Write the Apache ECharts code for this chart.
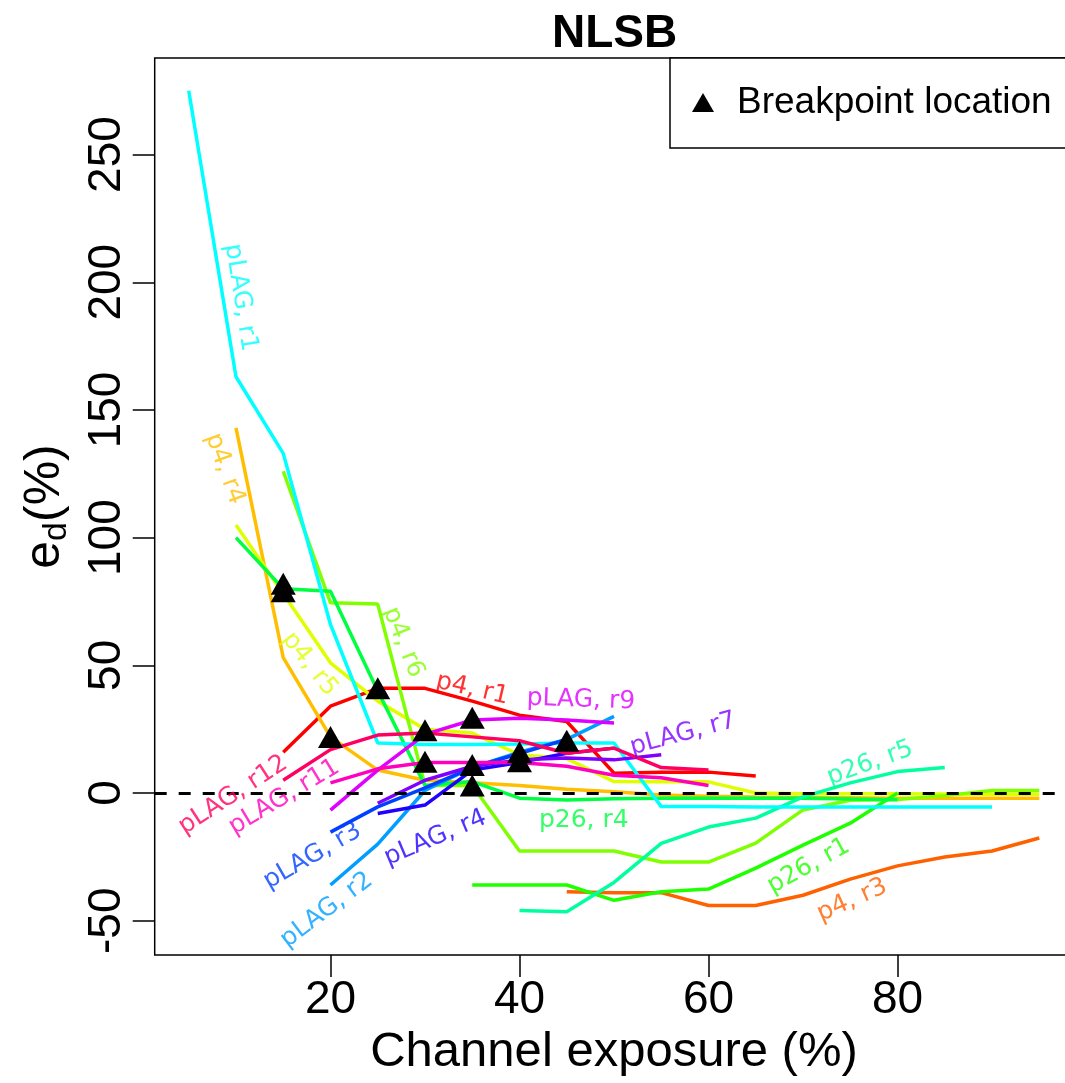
<!DOCTYPE html>
<html>
<head>
<meta charset="utf-8">
<script src="https://cdn.jsdelivr.net/npm/echarts@6/dist/echarts.min.js"></script>
<style>
	html, body { margin: 0; padding: 0; background: #fff; }
	#chart { width: 1065px; height: 1083px; }
</style>
</head>
<body>
<div id="chart"></div>
<script>
// data: channel exposure (%) vs e_d (%)
var x_p4_r1 = [15, 20, 25, 30, 35, 40, 45, 50, 55, 60, 65];
var y_p4_r1 = [16, 34, 41, 41, 36, 30.5, 28, 7.8, 8.2, 8.2, 6.7];

var x_p4_r3 = [45, 50, 55, 60, 65, 70, 75, 80, 85, 90, 95];
var y_p4_r3 = [-38.6, -39, -39, -44, -44, -40, -33.7, -28.5, -25, -22.7, -17.6];

var x_p4_r4 = [10, 15, 20, 25, 30, 35, 40, 45, 50, 55, 60, 65, 70, 75, 80, 85, 90, 95];
var y_p4_r4 = [143, 53, 22, 9, 5, 4, 3, 1.5, 0.5, -0.8, -1.2, -1.5, -1.7, -1.8, -2, -2, -2, -2];

var x_p4_r5 = [10, 15, 20, 25, 30, 35, 40, 45, 50, 55, 60, 65, 70, 75, 80, 85, 90, 95];
var y_p4_r5 = [105, 78, 51, 36, 25, 23.5, 15, 13.5, 4.5, 4.4, 4.4, 0, -0.3, -0.3, -0.3, -0.4, -0.5, -0.5];

var x_p4_r6 = [15, 20, 25, 30, 35, 40, 45, 50, 55, 60, 65, 70, 75, 80, 85, 90, 95];
var y_p4_r6 = [126, 74.5, 74, 3, 3, -22.7, -22.7, -22.7, -27, -27, -19.6, -6.6, -2.8, -2.5, -1, 1, 1];

var x_p26_r1 = [35, 40, 45, 50, 55, 60, 65, 70, 75, 80];
var y_p26_r1 = [-36, -36, -36, -42, -38.6, -37.6, -29.4, -20.4, -11.8, 0];

var x_p26_r4 = [10, 15, 20, 25, 30, 35, 40, 45, 50, 55, 60, 65, 70, 75, 80];
var y_p26_r4 = [100, 80, 79, 40, 3, 4.5, -2, -2.7, -2.2, -2, -2, -2, -2, -2.3, -2.6];

var x_p26_r5 = [40, 45, 50, 55, 60, 65, 70, 75, 80, 85];
var y_p26_r5 = [-46, -46.5, -35, -19.7, -13.3, -9.8, -1.5, 4, 8.4, 10];

var x_plag_r1 = [5, 10, 15, 20, 25, 30, 35, 40, 45, 50, 55, 60, 65, 70, 75, 80, 85, 90];
var y_plag_r1 = [275, 163, 133, 66, 19.6, 19, 19, 19.2, 19.6, 19.6, -5.3, -5.3, -5.5, -5.5, -5.5, -5.5, -5.5, -5.5];

var x_plag_r2 = [20, 25, 30, 35, 40, 45, 50];
var y_plag_r2 = [-36, -20, 1, 10, 16, 21, 30];

var x_plag_r3 = [20, 25, 30, 35, 40, 45];
var y_plag_r3 = [-15.3, -5.4, 2, 10, 15.5, 21];

var x_plag_r4 = [25, 30, 35, 40, 45, 50];
var y_plag_r4 = [-8, -4.7, 9, 12, 15.6, 17.6];

var x_plag_r7 = [25, 30, 35, 40, 45, 50, 55];
var y_plag_r7 = [-4, 5, 10.5, 13, 13.7, 13, 15];

var x_plag_r9 = [20, 25, 30, 35, 40, 45, 50];
var y_plag_r9 = [-6.7, 9, 23, 28.6, 29.3, 28.6, 27.4];

var x_plag_r11 = [20, 25, 30, 35, 40, 45, 50, 55, 60];
var y_plag_r11 = [4, 9.5, 12, 12, 12, 10.5, 7, 6, 3];

var x_plag_r12 = [15, 20, 25, 30, 35, 40, 45, 50, 55, 60];
var y_plag_r12 = [5, 17, 22.7, 23.5, 22, 20.5, 15.6, 17.6, 10, 9];

// breakpoints (triangles)
var bp_x = [15, 15, 20, 25, 30, 30, 35, 35, 35, 40, 40, 45];
var bp_y = [82, 79, 22, 41, 24.6, 12.3, 29.5, 11, 3, 16, 12.5, 20.5];

var x_ticks = [20, 40, 60, 80];
var y_ticks = [-50, 0, 50, 100, 150, 200, 250];

// rainbow(16) order
var runs = [
	{ name: 'p4, r1',    x: x_p4_r1,    y: y_p4_r1,    color: '#FF0000' },
	{ name: 'p4, r3',    x: x_p4_r3,    y: y_p4_r3,    color: '#FF6000' },
	{ name: 'p4, r4',    x: x_p4_r4,    y: y_p4_r4,    color: '#FFBF00' },
	{ name: 'p4, r5',    x: x_p4_r5,    y: y_p4_r5,    color: '#DFFF00' },
	{ name: 'p4, r6',    x: x_p4_r6,    y: y_p4_r6,    color: '#80FF00' },
	{ name: 'p26, r1',   x: x_p26_r1,   y: y_p26_r1,   color: '#20FF00' },
	{ name: 'p26, r4',   x: x_p26_r4,   y: y_p26_r4,   color: '#00FF40' },
	{ name: 'p26, r5',   x: x_p26_r5,   y: y_p26_r5,   color: '#00FF9F' },
	{ name: 'pLAG, r1',  x: x_plag_r1,  y: y_plag_r1,  color: '#00FFFF' },
	{ name: 'pLAG, r2',  x: x_plag_r2,  y: y_plag_r2,  color: '#009FFF' },
	{ name: 'pLAG, r3',  x: x_plag_r3,  y: y_plag_r3,  color: '#0040FF' },
	{ name: 'pLAG, r4',  x: x_plag_r4,  y: y_plag_r4,  color: '#2000FF' },
	{ name: 'pLAG, r7',  x: x_plag_r7,  y: y_plag_r7,  color: '#8000FF' },
	{ name: 'pLAG, r9',  x: x_plag_r9,  y: y_plag_r9,  color: '#DF00FF' },
	{ name: 'pLAG, r11', x: x_plag_r11, y: y_plag_r11, color: '#FF00BF' },
	{ name: 'pLAG, r12', x: x_plag_r12, y: y_plag_r12, color: '#FF0060' }
];

// where the run names sit on the plot (data coords) and their slope angle
var annot = {
	'p4, r1':    [35.0, 40.7, -13],
	'p4, r3':    [75.2, -42, 24],
	'p4, r4':    [8.8, 127, -70],
	'p4, r5':    [17.8, 50.5, -52],
	'p4, r6':    [27.7, 59, -68],
	'p26, r1':   [70.6, -28.6, 29],
	'p26, r4':   [46.8, -10.6, 0],
	'p26, r5':   [77.1, 11.7, 20],
	'pLAG, r1':  [10.5, 194, -81],
	'pLAG, r2':  [19.6, -45.8, 37],
	'pLAG, r3':  [18.1, -24.7, 30],
	'pLAG, r4':  [31.1, -17.6, 23],
	'pLAG, r7':  [57.3, 23.1, 15],
	'pLAG, r9':  [46.5, 36.4, -2],
	'pLAG, r11': [15.1, -1.6, 31],
	'pLAG, r12': [9.7, -0.8, 33]
};

var AXFONT = '"Liberation Sans", Arial, Helvetica, sans-serif';
var LBFONT = '"DejaVu Sans", Verdana, sans-serif';

var chartDom = document.getElementById('chart');
var myChart = echarts.init(chartDom, null, { renderer: 'canvas' });

var series = [];
var labelData = [];

for (var run of runs) {
	var pts = [];
	for (var i = 0; i < run.x.length; i++) pts.push([run.x[i], run.y[i]]);
	series.push({
		name: run.name,
		type: 'line',
		data: pts,
		showSymbol: false,
		silent: true,
		z: 3,
		lineStyle: { color: run.color, width: 3.5 },
		itemStyle: { color: run.color }
	});
	var a = annot[run.name];
	labelData.push({
		name: run.name,
		value: [a[0], a[1]],
		label: { rotate: a[2], color: run.color }
	});
}

// zero reference line
series[0].markLine = {
	silent: true,
	symbol: 'none',
	label: { show: false },
	lineStyle: { color: '#000', width: 3, type: [12, 12] },
	data: [{ yAxis: 0 }]
};

var bp = [];
for (var j = 0; j < bp_x.length; j++) bp.push([bp_x[j], bp_y[j]]);

series.push({
	name: 'Breakpoint location',
	type: 'scatter',
	data: bp,
	symbol: 'triangle',
	symbolSize: [25, 22],
	z: 10,
	itemStyle: { color: '#000', opacity: 1 }
});

series.push({
	name: 'labels',
	type: 'scatter',
	data: labelData,
	symbolSize: 0,
	silent: true,
	z: 5,
	label: {
		show: true,
		position: 'inside',
		formatter: '{b}',
		fontFamily: LBFONT,
		fontSize: 25,
		align: 'center',
		verticalAlign: 'middle'
	}
});

var option = {
	animation: false,
	backgroundColor: '#fff',
	title: {
		text: 'NLSB',
		left: 547,
		top: 6,
		textStyle: { fontFamily: AXFONT, fontWeight: 'bold', fontSize: 46, color: '#000' }
	},
	legend: {
		data: ['Breakpoint location'],
		left: 670,
		top: 58,
		orient: 'vertical',
		padding: [26, 60, 27, 22],
		borderColor: '#000',
		borderWidth: 1.5,
		backgroundColor: '#fff',
		icon: 'triangle',
		itemWidth: 22,
		itemHeight: 19,
		itemStyle: { opacity: 1 },
		textStyle: { fontFamily: AXFONT, fontSize: 37, color: '#000', padding: [0, 0, 0, 18] }
	},
	grid: {
		left: 154.7,
		top: 58,
		width: 918.6,
		height: 897,
		outerBoundsMode: 'none',
		containLabel: false,
		show: true,
		borderColor: '#000',
		borderWidth: 1.5
	},
	xAxis: {
		type: 'value',
		min: 1.4,
		max: 98.6,
		name: 'Channel exposure (%)',
		nameLocation: 'middle',
		nameGap: 70,
		nameTextStyle: { fontFamily: AXFONT, fontSize: 49, color: '#000' },
		axisLine: { show: false, onZero: false },
		splitLine: { show: false },
		axisTick: { show: true, length: 22, lineStyle: { color: '#000', width: 1.5 }, customValues: x_ticks },
		axisLabel: { fontFamily: AXFONT, fontSize: 46, color: '#000', margin: 22, customValues: x_ticks }
	},
	yAxis: {
		type: 'value',
		min: -63.4,
		max: 287.8,
		name: '{e|e}{d|d}{e|(%)}',
		nameLocation: 'middle',
		nameRotate: 90,
		nameGap: 81,
		nameTextStyle: {
			color: '#000',
			rich: {
				e: { fontFamily: AXFONT, fontSize: 50, color: '#000' },
				d: { fontFamily: AXFONT, fontSize: 34, color: '#000', padding: [22, 0, 0, 0] }
			}
		},
		axisLine: { show: false, onZero: false },
		splitLine: { show: false },
		axisTick: { show: true, length: 22, lineStyle: { color: '#000', width: 1.5 }, customValues: y_ticks },
		axisLabel: { fontFamily: AXFONT, fontSize: 46, color: '#000', rotate: 90, margin: 24, customValues: y_ticks }
	},
	series: series
};

myChart.setOption(option);
</script>
</body>
</html>
